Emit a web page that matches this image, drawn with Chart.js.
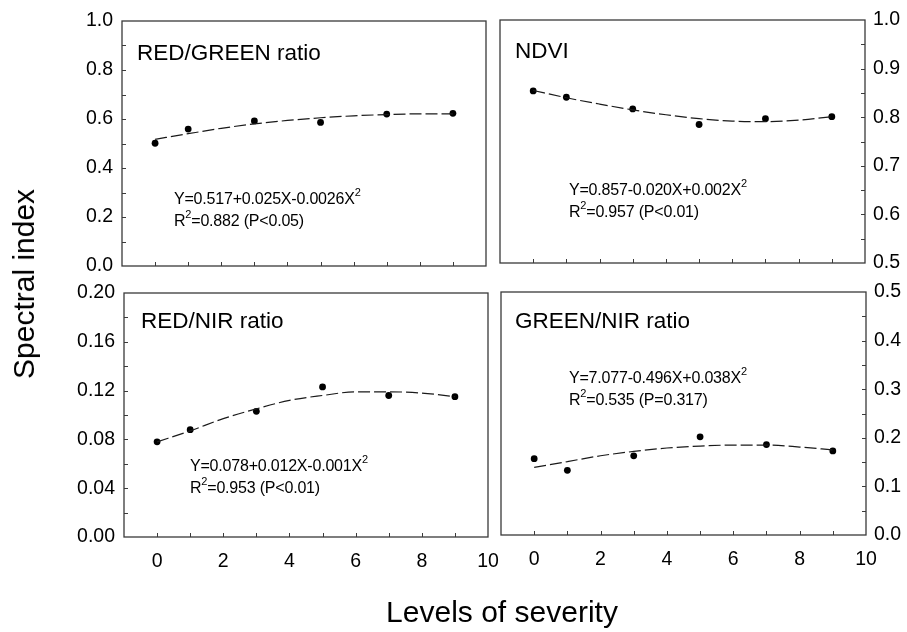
<!DOCTYPE html>
<html>
<head>
<meta charset="utf-8">
<script src="https://cdn.jsdelivr.net/npm/chart.js@4"></script>
<style>
html, body { margin: 0; padding: 0; background: #fff; }
#wrap { position: relative; width: 907px; height: 632px; overflow: hidden;
        font-family: "Liberation Sans", Arial, sans-serif; color: #000; }
#wrap canvas { position: absolute; left: 0; top: 0; }
.lbl { position: absolute; white-space: nowrap; line-height: 1; }
.ttl { font-size: 22.5px; }
.eq { font-size: 16px; line-height: 22px; letter-spacing: -0.2px; }
.eq sup { font-size: 11px; line-height: 0; vertical-align: 8px; }
.axt { font-size: 30px; }
</style>
</head>
<body>
<div id="wrap">
  <canvas id="pRG" width="907" height="632"></canvas>
  <canvas id="pNDVI" width="907" height="632"></canvas>
  <canvas id="pRN" width="907" height="632"></canvas>
  <canvas id="pGN" width="907" height="632"></canvas>

  <div class="lbl ttl" style="left:137px; top:42px;">RED/GREEN ratio</div>
  <div class="lbl ttl" style="left:515px; top:40px;">NDVI</div>
  <div class="lbl ttl" style="left:141px; top:310px;">RED/NIR ratio</div>
  <div class="lbl ttl" style="left:515px; top:310px;">GREEN/NIR ratio</div>

  <div class="lbl eq" style="left:174px; top:188px;">Y=0.517+0.025X-0.0026X<sup>2</sup><br>R<sup>2</sup>=0.882 (P&lt;0.05)</div>
  <div class="lbl eq" style="left:569px; top:179px;">Y=0.857-0.020X+0.002X<sup>2</sup><br>R<sup>2</sup>=0.957 (P&lt;0.01)</div>
  <div class="lbl eq" style="left:190px; top:455px;">Y=0.078+0.012X-0.001X<sup>2</sup><br>R<sup>2</sup>=0.953 (P&lt;0.01)</div>
  <div class="lbl eq" style="left:569px; top:367px;">Y=7.077-0.496X+0.038X<sup>2</sup><br>R<sup>2</sup>=0.535 (P=0.317)</div>

  <div class="lbl axt" style="left:24px; top:284px; transform: translate(-50%, -50%) rotate(-90deg);">Spectral index</div>
  <div class="lbl axt" style="left:502px; top:597px; transform: translateX(-50%);">Levels of severity</div>
</div>

<script>
const W = 907, H = 632;

// niveis de severidade medidos e pontos da curva ajustada
const severity = [0, 1, 3, 5, 7, 9];
const fitX = [0, 1, 2, 3, 4, 5, 6, 7, 8, 9];

const redGreen    = [0.501, 0.559, 0.592, 0.586, 0.620, 0.623];
const redGreenFit = [0.517, 0.540, 0.562, 0.580, 0.594, 0.605, 0.613, 0.618, 0.621, 0.621];

const ndvi    = [0.854, 0.841, 0.817, 0.785, 0.797, 0.801];
const ndviFit = [0.855, 0.840, 0.827, 0.815, 0.805, 0.797, 0.792, 0.791, 0.794, 0.801];

const redNir    = [0.078, 0.088, 0.103, 0.123, 0.116, 0.115];
const redNirFit = [0.078, 0.087, 0.097, 0.105, 0.112, 0.116, 0.119, 0.119, 0.118, 0.115];

const greenNir    = [0.157, 0.133, 0.163, 0.202, 0.186, 0.173];
const greenNirFit = [0.139, 0.151, 0.163, 0.172, 0.179, 0.183, 0.185, 0.185, 0.181, 0.175];

// ticks
const xTicks = [0, 2, 4, 6, 8, 10];
const redGreenTicks = [0, 0.2, 0.4, 0.6, 0.8, 1.0];
const ndviTicks = [0.5, 0.6, 0.7, 0.8, 0.9, 1.0];
const redNirTicks = [0, 0.04, 0.08, 0.12, 0.16, 0.20];
const greenNirTicks = [0, 0.1, 0.2, 0.3, 0.4, 0.5];

const FONT = { family: '"Liberation Sans", Arial, sans-serif', size: 19.5 };

// major ticks + midpoints (minor ticks)
function tickMarks(vals) {
    const out = [];
    vals.forEach((v, i) => {
        out.push(v);
        if (i < vals.length - 1) out.push((v + vals[i + 1]) / 2);
    });
    out.unshift(vals[0] - (vals[1] - vals[0]) / 2);
    return out;
}

// moldura + ticks para dentro
const framePlugin = {
    id: 'frame',
    afterDraw(chart) {
        const { ctx, chartArea: a, scales } = chart;
        const x = scales.x, y = scales.y;
        const tl = 4;
        ctx.save();
        ctx.strokeStyle = '#3a3a3a';
        ctx.lineWidth = 1;
        ctx.beginPath();
        tickMarks(x.ticks.map(t => t.value)).forEach(v => {
            const px = Math.round(x.getPixelForValue(v)) + 0.5;
            if (px <= a.left + 1 || px >= a.right - 1) return;
            ctx.moveTo(px, a.bottom);
            ctx.lineTo(px, a.bottom - tl);
        });
        const right = y.position === 'right';
        tickMarks(y.ticks.map(t => t.value)).forEach(v => {
            const py = Math.round(y.getPixelForValue(v)) + 0.5;
            if (py <= a.top + 1 || py >= a.bottom - 1) return;
            const ex = right ? a.right : a.left;
            ctx.moveTo(ex, py);
            ctx.lineTo(right ? ex - tl : ex + tl, py);
        });
        ctx.stroke();
        ctx.lineWidth = 1.3;
        ctx.strokeRect(a.left, a.top, a.right - a.left, a.bottom - a.top);
        ctx.restore();
    }
};

/**
 * Monta um painel: box = [left, top, right, bottom] da area de plotagem.
 */
function painel(id, box, yPos, yMin, yMax, yTicks, dec, showX, pts, fit) {
    const yw = yPos === 'left' ? 70 : 42, xh = 50;
    new Chart(document.getElementById(id), {
        type: 'scatter',
        data: {
            datasets: [{
                data: fitX.map((v, i) => ({ x: v, y: fit[i] })),
                showLine: true,
                borderColor: '#1a1a1a',
                borderWidth: 1.2,
                borderDash: [12, 4],
                pointRadius: 0,
                cubicInterpolationMode: 'monotone',
                fill: false
            }, {
                data: severity.map((v, i) => ({ x: v, y: pts[i] })),
                showLine: false,
                pointRadius: 3.4,
                backgroundColor: '#000',
                borderColor: '#000',
                borderWidth: 0
            }]
        },
        options: {
            responsive: false,
            animation: false,
            events: [],
            layout: {
                padding: {
                    left: box[0] - (yPos === 'left' ? yw : 0),
                    right: W - box[2] - (yPos === 'right' ? yw : 0),
                    top: box[1],
                    bottom: H - box[3] - xh
                }
            },
            plugins: { legend: { display: false }, tooltip: { enabled: false } },
            scales: {
                x: {
                    type: 'linear', min: -1, max: 10,
                    grid: { display: false, drawTicks: false }, border: { display: false },
                    afterBuildTicks: s => { s.ticks = xTicks.map(v => ({ value: v })); },
                    afterFit: s => { s.height = xh; s.paddingLeft = 0; s.paddingRight = 0; },
                    ticks: { display: showX, color: '#000', padding: 13, font: FONT, maxRotation: 0 }
                },
                y: {
                    type: 'linear', position: yPos, min: yMin, max: yMax,
                    grid: { display: false, drawTicks: false }, border: { display: false },
                    afterBuildTicks: s => { s.ticks = yTicks.map(v => ({ value: v })); },
                    afterFit: s => { s.width = yw; s.paddingTop = 0; s.paddingBottom = 0; },
                    ticks: { color: '#000', padding: yPos === 'left' ? 9 : 8, font: FONT,
                             callback: v => Number(v).toFixed(dec) }
                }
            }
        },
        plugins: [framePlugin]
    });
}

painel('pRG',   [122, 21, 486, 266],  'left',  0,   1.0, redGreenTicks, 1, false, redGreen, redGreenFit);
painel('pNDVI', [500, 20, 865, 263],  'right', 0.5, 1.0, ndviTicks,     1, false, ndvi,     ndviFit);
painel('pRN',   [124, 293, 488, 537], 'left',  0,   0.2, redNirTicks,   2, true,  redNir,   redNirFit);
painel('pGN',   [501, 292, 866, 535], 'right', 0,   0.5, greenNirTicks, 1, true,  greenNir, greenNirFit);
</script>
</body>
</html>
